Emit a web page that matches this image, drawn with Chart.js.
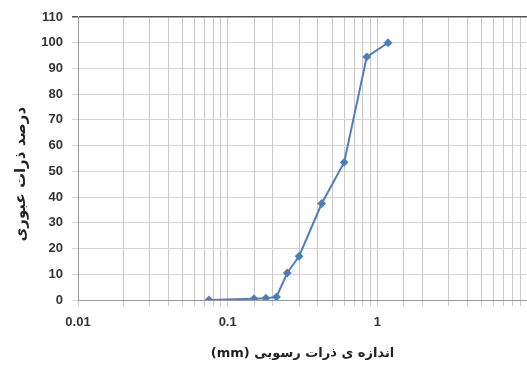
<!DOCTYPE html>
<html>
<head>
<meta charset="utf-8">
<script src="https://cdn.jsdelivr.net/npm/chart.js@4/dist/chart.umd.min.js"></script>
<style>
  html, body { margin: 0; padding: 0; background: #fff; }
  #frame { width: 527px; height: 366px; overflow: hidden; position: relative; }
  #wrap { width: 532px; height: 366px; position: relative; }
</style>
</head>
<body>
<div id="frame"><div id="wrap"><canvas id="gradChart"></canvas></div></div>
<script>
// Sieve sizes (mm) and percent passing
const sizes = [0.075, 0.15, 0.18, 0.212, 0.25, 0.3, 0.425, 0.6, 0.85, 1.18];
const passing = [0, 0.5, 0.7, 1.2, 10.5, 17, 37.5, 53.5, 94.5, 100];
const xLabels = [0.01, 0.1, 1];
const xTitle = '(mm) اندازه ی ذرات رسوبی';
const yTitle = 'درصد ذرات عبوری';

const points = sizes.map((s, i) => ({ x: s, y: passing[i] }));
const tickFont = { family: 'Liberation Sans', size: 13, weight: 'bold' };

new Chart(document.getElementById('gradChart'), {
    type: 'scatter',
    data: {
        datasets: [{
            data: points,
            showLine: true,
            borderColor: '#4f7fbd',
            backgroundColor: '#4a78b4',
            borderWidth: 2,
            pointStyle: 'rectRot',
            pointRadius: 3,
            pointHoverRadius: 3
        }]
    },
    options: {
        responsive: true,
        maintainAspectRatio: false,
        animation: false,
        layout: { padding: { top: 17, right: 0, left: 0, bottom: 0 } },
        plugins: { legend: { display: false }, tooltip: { enabled: false } },
        scales: {
            x: {
                type: 'logarithmic',
                min: 0.01,
                max: 10,
                afterFit: function(scale) {
                    scale.height = 66;
                    scale.paddingLeft = 0;
                    scale.paddingRight = 0;
                },
                border: { color: '#9a9a9a', width: 1 },
                grid: {
                    color: '#c8c8c8',
                    tickLength: 6
                },
                ticks: {
                    autoSkip: false,
                    maxRotation: 0,
                    padding: 9,
                    color: '#333',
                    font: tickFont,
                    callback: function(value) {
                        return xLabels.some(v => Math.abs(v - value) < 1e-9) ? String(value) : '';
                    }
                },
                title: {
                    display: true,
                    text: xTitle,
                    color: '#222',
                    font: { family: 'DejaVu Sans', size: 13, weight: 'bold' },
                    padding: { top: 0, bottom: 5 }
                }
            },
            y: {
                min: 0,
                max: 110,
                afterFit: function(scale) { scale.width = 78; },
                border: { color: '#9a9a9a', width: 1 },
                grid: {
                    color: ctx => (ctx.tick && ctx.tick.value === 110) ? '#555' : '#d4d4d4',
                    lineWidth: ctx => (ctx.tick && ctx.tick.value === 110) ? 1.5 : 1,
                    tickLength: 6
                },
                ticks: {
                    stepSize: 10,
                    padding: 9,
                    color: '#333',
                    font: tickFont
                },
                title: {
                    display: true,
                    // trailing spaces nudge the rotated title a little lower
                    text: yTitle + '      ',
                    color: '#222',
                    font: { family: 'DejaVu Sans', size: 15, weight: 'bold' },
                    padding: { top: 12, bottom: 0 }
                }
            }
        }
    }
});
</script>
</body>
</html>
